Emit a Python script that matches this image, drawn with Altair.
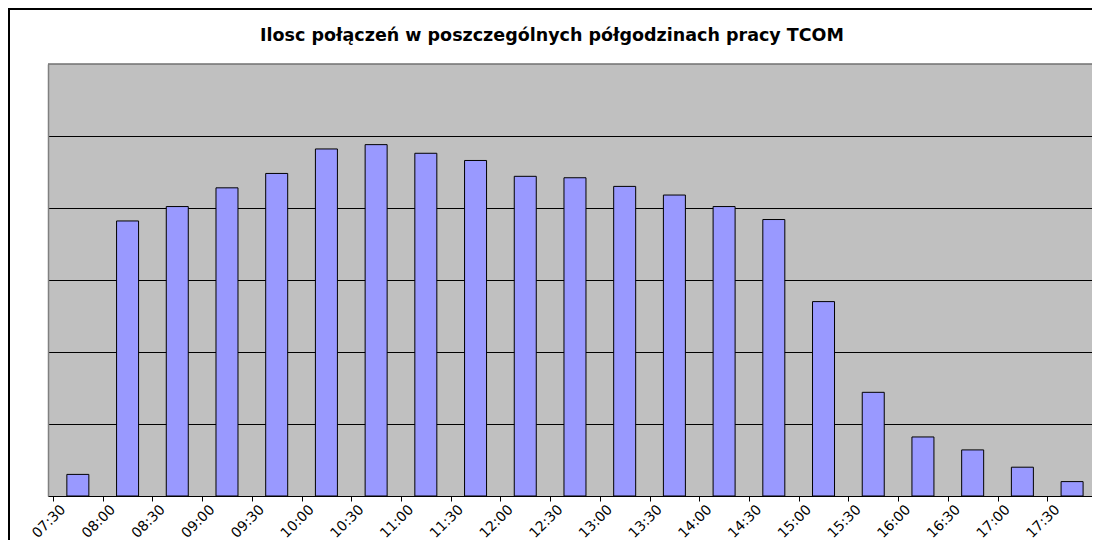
import altair as alt
import pandas as pd

# Half-hour slots and call counts (gridline = 50)
slots = ["07:30", "08:00", "08:30", "09:00", "09:30", "10:00", "10:30",
         "11:00", "11:30", "12:00", "12:30", "13:00", "13:30", "14:00",
         "14:30", "15:00", "15:30", "16:00", "16:30", "17:00", "17:30"]
calls = [15, 191, 201, 214, 224, 241, 244, 238, 233, 222, 221, 215, 209,
         201, 192, 135, 72, 41, 32, 20, 10]
y_ticks = [0, 50, 100, 150, 200, 250]
y_max = 300
title_text = "Ilosc połączeń w poszczególnych półgodzinach pracy TCOM"

df = pd.DataFrame({"slot": slots, "idx": list(range(len(slots))), "calls": calls})
one = pd.DataFrame({"t": [title_text], "top": [y_max]})

W, H = 1044, 432
FONT = "DejaVu Sans"

label_array = "[" + ",".join("'" + s + "'" for s in slots) + "]"

yscale = alt.Scale(domain=[0, y_max], nice=False)

bars = alt.Chart(df).transform_calculate(pos="datum.idx + 0.5").mark_bar(
    fill="#9999FF", stroke="#000000", strokeWidth=1, size=22
).encode(
    x=alt.X("pos:Q",
            scale=alt.Scale(domain=[0, 20.8], nice=False, zero=False),
            axis=alt.Axis(values=list(range(len(slots))),
                          labelExpr=label_array + "[datum.value]",
                          title=None, grid=False,
                          domainColor="#000000", domainWidth=1,
                          tickColor="#000000", tickSize=5,
                          labelAngle=315, labelAlign="right", labelBaseline="middle",
                          labelOffset=10, labelPadding=6,
                          labelFont=FONT, labelFontSize=14, labelColor="#000000")),
    y=alt.Y("calls:Q", scale=yscale,
            axis=alt.Axis(values=y_ticks, grid=True, labels=False, ticks=False,
                          domain=True, domainColor="#808080", domainWidth=1.5,
                          title=None, gridColor="#000000",
                          gridOpacity=1, gridWidth=1)),
)

top_edge = alt.Chart(one).mark_rule(color="#707070", strokeWidth=1.5).encode(
    y=alt.Y("top:Q", scale=yscale),
)

frame = alt.Chart(one).mark_rect(filled=False, stroke="#000000", strokeWidth=2).encode(
    x=alt.value(-39), x2=alt.value(W + 60),
    y=alt.value(-55), y2=alt.value(H + 80),
)

title = alt.Chart(one).mark_text(
    font=FONT, fontSize=17.5, fontWeight="bold", color="#000000",
    align="center", baseline="alphabetic"
).encode(
    text="t:N", x=alt.value(504), y=alt.value(-23),
)

chart = alt.layer(frame, bars, top_edge, title).properties(
    width=W, height=H,
    autosize=alt.AutoSizeParams(type="none"),
    padding={"left": 40, "top": 56, "right": 0, "bottom": 44},
    background="#FFFFFF",
).configure_view(fill="#C0C0C0", stroke=None)

chart.save("out.html", embed_options={"renderer": "svg", "actions": False})
